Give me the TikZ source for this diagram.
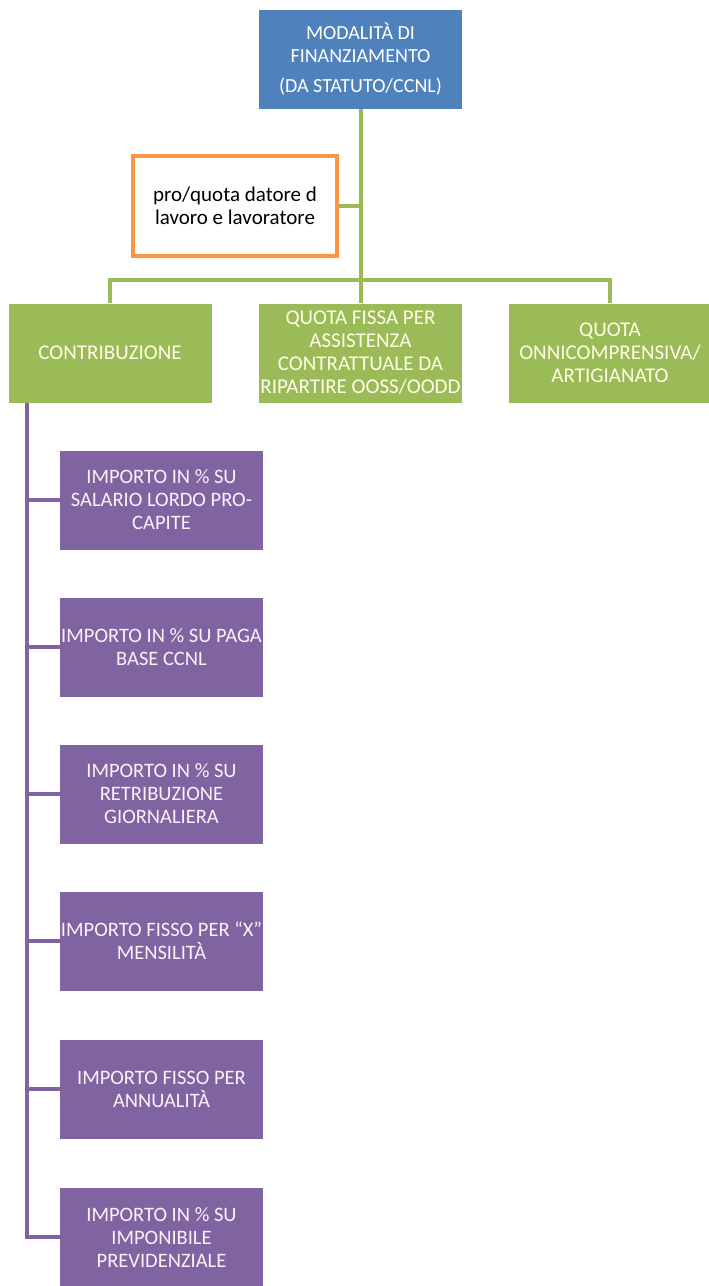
\documentclass[tikz,border=0pt]{standalone}
\usepackage{fontspec}
\setmainfont{Carlito}
\definecolor{topblue}{HTML}{4F81BD}
\definecolor{leafgreen}{HTML}{9BBB59}
\definecolor{subpurple}{HTML}{8064A2}
\definecolor{noteorange}{HTML}{F79646}
\begin{document}
\begin{tikzpicture}[x=1pt,y=-1pt,
  box/.style={rectangle, inner sep=0pt, minimum width=203pt, minimum height=99pt,
    align=center, text=white, font=\fontsize{20}{23.5}\selectfont},
  topbox/.style={box, fill=topblue},
  greenbox/.style={box, fill=leafgreen, text=white!90!yellow, font=\fontsize{21}{23}\selectfont},
  purplebox/.style={box, fill=subpurple, text=white!94!magenta, font=\fontsize{20.5}{23}\selectfont},
  notebox/.style={rectangle, inner sep=0pt, draw=noteorange, line width=4pt, fill=white,
    minimum width=204pt, minimum height=100pt, align=center, text=black,
    font=\fontsize{21}{23}\selectfont},
  glink/.style={draw=leafgreen, line width=4pt},
  plink/.style={draw=subpurple, line width=4pt}]
\useasboundingbox (0,0) rectangle (709,1286);

% root
\node[topbox] (root) at (360.5,59) {MODALITÀ DI\\FINANZIAMENTO\\[6pt](DA STATUTO/CCNL)};

% side note
\node[notebox] (note) at (235,206) {pro/quota datore d\\lavoro e lavoratore};

% funding types
\node[greenbox] (g1) at (110,353) {CONTRIBUZIONE};
\node[greenbox] (g2) at (360.5,353) {QUOTA FISSA PER\\ASSISTENZA\\CONTRATTUALE DA\\RIPARTIRE OOSS/OODD};
\node[greenbox] (g3) at (610,353) {QUOTA\\ONNICOMPRENSIVA/\\ARTIGIANATO};

% contribution modes
\node[purplebox] (p1) at (161.5,500) {IMPORTO IN \% SU\\SALARIO LORDO PRO-\\CAPITE};
\node[purplebox] (p2) at (161.5,647) {IMPORTO IN \% SU PAGA\\BASE CCNL};
\node[purplebox] (p3) at (161.5,794) {IMPORTO IN \% SU\\RETRIBUZIONE\\GIORNALIERA};
\node[purplebox] (p4) at (161.5,941) {IMPORTO FISSO PER “X”\\MENSILITÀ};
\node[purplebox] (p5) at (161.5,1089) {IMPORTO FISSO PER\\ANNUALITÀ};
\node[purplebox] (p6) at (161.5,1237) {IMPORTO IN \% SU\\IMPONIBILE\\PREVIDENZIALE};

% green tree
\coordinate (bus) at (root.south |- 0,280);
\path[glink] (root.south) -- (bus);
\path[glink] (g1.north) -- (g1.north |- bus) -- (g3.north |- bus) -- (g3.north);
\path[glink] (g2.north |- bus) -- (g2.north);
\path[glink] (note.east) -- (note.east -| root.south);

% purple tree
\coordinate (spine) at (27,0);
\path[plink] (spine |- g1.south) -- (spine |- p6.west) -- (p6.west);
\foreach \p in {p1,p2,p3,p4,p5}
  \path[plink] (spine |- \p.west) -- (\p.west);
\end{tikzpicture}
\end{document}
